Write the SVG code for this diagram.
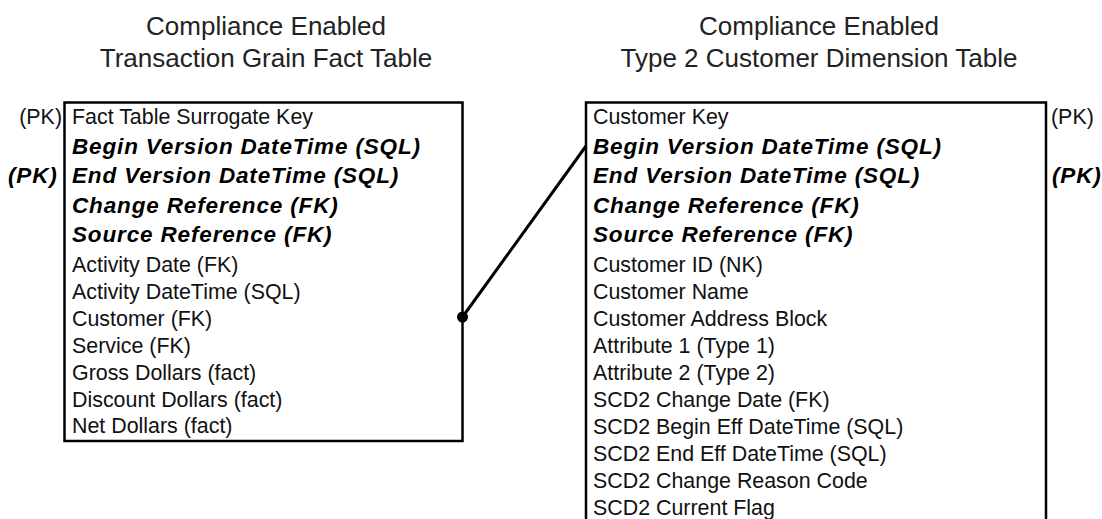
<svg xmlns="http://www.w3.org/2000/svg" width="1102" height="519" viewBox="0 0 1102 519">
  <style>
    .title { font-family: "Liberation Sans", Arial, sans-serif; font-size: 26px; fill: #222; text-anchor: middle; }
    .col { font-family: "Liberation Sans", Arial, sans-serif; font-size: 21.4px; fill: #111; }
    .key { font-family: "Liberation Sans", Arial, sans-serif; font-size: 22.5px; font-weight: bold; font-style: italic; fill: #000; letter-spacing: 0.85px; }
    .box { fill: #fff; stroke: #000; stroke-width: 2.5; }
    .link { stroke: #000; stroke-width: 3; fill: none; }
  </style>
  <rect width="1102" height="519" fill="#fff"/>

  <!-- Fact table -->
  <g id="fact-table">
    <text class="title" x="266" y="35">Compliance Enabled</text>
    <text class="title" x="266" y="67">Transaction Grain Fact Table</text>
    <rect class="box" x="64.5" y="102.5" width="398" height="338.5"/>
    <text class="col" x="62" y="124" text-anchor="end">(PK)</text>
    <text class="key" x="8" y="183">(PK)</text>
    <text class="col" x="72" y="124">Fact Table Surrogate Key</text>
    <text class="key" x="72" y="154">Begin Version DateTime (SQL)</text>
    <text class="key" x="72" y="183">End Version DateTime (SQL)</text>
    <text class="key" x="72" y="213">Change Reference (FK)</text>
    <text class="key" x="72" y="242">Source Reference (FK)</text>
    <text class="col" x="72" y="272">Activity Date (FK)</text>
    <text class="col" x="72" y="299">Activity DateTime (SQL)</text>
    <text class="col" x="72" y="326">Customer (FK)</text>
    <text class="col" x="72" y="353">Service (FK)</text>
    <text class="col" x="72" y="380">Gross Dollars (fact)</text>
    <text class="col" x="72" y="407">Discount Dollars (fact)</text>
    <text class="col" x="72" y="433">Net Dollars (fact)</text>
  </g>

  <!-- Customer dimension -->
  <g id="customer-dimension">
    <text class="title" x="819" y="35">Compliance Enabled</text>
    <text class="title" x="819" y="67">Type 2 Customer Dimension Table</text>
    <rect class="box" x="586" y="102.5" width="460" height="440"/>
    <text class="col" x="1051" y="124">(PK)</text>
    <text class="key" x="1052" y="183">(PK)</text>
    <text class="col" x="593" y="124">Customer Key</text>
    <text class="key" x="593" y="154">Begin Version DateTime (SQL)</text>
    <text class="key" x="593" y="183">End Version DateTime (SQL)</text>
    <text class="key" x="593" y="213">Change Reference (FK)</text>
    <text class="key" x="593" y="242">Source Reference (FK)</text>
    <text class="col" x="593" y="272">Customer ID (NK)</text>
    <text class="col" x="593" y="299">Customer Name</text>
    <text class="col" x="593" y="326">Customer Address Block</text>
    <text class="col" x="593" y="353">Attribute 1 (Type 1)</text>
    <text class="col" x="593" y="380">Attribute 2 (Type 2)</text>
    <text class="col" x="593" y="407">SCD2 Change Date (FK)</text>
    <text class="col" x="593" y="434">SCD2 Begin Eff DateTime (SQL)</text>
    <text class="col" x="593" y="461">SCD2 End Eff DateTime (SQL)</text>
    <text class="col" x="593" y="488">SCD2 Change Reason Code</text>
    <text class="col" x="593" y="515">SCD2 Current Flag</text>
  </g>

  <!-- Relationship -->
  <g id="connectors">
    <line class="link" x1="462.5" y1="317" x2="586" y2="146"/>
    <circle cx="462.5" cy="317" r="5.5" fill="#000"/>
  </g>
</svg>
